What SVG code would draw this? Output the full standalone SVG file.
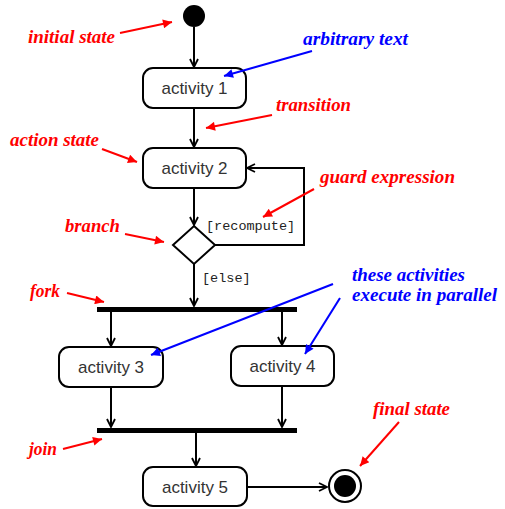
<svg xmlns="http://www.w3.org/2000/svg" width="505" height="509" viewBox="0 0 505 509">
<style>
.box{fill:#fff;stroke:#000;stroke-width:2}
.act{font-family:"Liberation Sans",Arial,sans-serif;font-size:17px;fill:#333;text-anchor:middle}
.guard{font-family:"Liberation Mono","Courier New",monospace;font-size:13.5px;fill:#222}
.edge{fill:none;stroke:#000;stroke-width:2}
.red{font-family:"Liberation Serif","Times New Roman",serif;font-weight:bold;font-style:italic;font-size:18px;fill:#f00}
.blue{font-family:"Liberation Serif","Times New Roman",serif;font-weight:bold;font-style:italic;font-size:18px;fill:#00f}
.rl{stroke:#f00;stroke-width:2;fill:none}
.bl{stroke:#00f;stroke-width:2;fill:none}
</style>
<defs>
<marker id="open" viewBox="0 0 10 10" refX="9" refY="5" markerWidth="10" markerHeight="10" markerUnits="userSpaceOnUse" orient="auto">
<path d="M1,1 L9,5 L1,9" fill="none" stroke="#000" stroke-width="1.8"/>
</marker>
<marker id="ra" viewBox="0 0 10 10" refX="10" refY="5" markerWidth="11" markerHeight="9" markerUnits="userSpaceOnUse" orient="auto">
<path d="M0,0 L10,5 L0,10 Z" fill="#f00"/>
</marker>
<marker id="ba" viewBox="0 0 10 10" refX="10" refY="5" markerWidth="11" markerHeight="9" markerUnits="userSpaceOnUse" orient="auto">
<path d="M0,0 L10,5 L0,10 Z" fill="#00f"/>
</marker>
</defs>

<g id="connectors">
<path class="edge" d="M194,27 V67" marker-end="url(#open)"/>
<path class="edge" d="M194,108 V147" marker-end="url(#open)"/>
<path class="edge" d="M194,188 V225" marker-end="url(#open)"/>
<path class="edge" d="M215,245 H304 V168 H247" marker-end="url(#open)"/>
<path class="edge" d="M194,264 V306" marker-end="url(#open)"/>
<path class="edge" d="M111,312 V346" marker-end="url(#open)"/>
<path class="edge" d="M282,312 V345" marker-end="url(#open)"/>
<path class="edge" d="M111,387 V427" marker-end="url(#open)"/>
<path class="edge" d="M282,386 V427" marker-end="url(#open)"/>
<path class="edge" d="M196,433 V466" marker-end="url(#open)"/>
<path class="edge" d="M247,487 H327" marker-end="url(#open)"/>
<text class="guard" x="206" y="230">[recompute]</text>
<text class="guard" x="202" y="282">[else]</text>
</g>

<g id="initial"><circle cx="194" cy="16" r="11" fill="#000"/></g>
<g id="activity1"><rect class="box" x="143" y="68" width="103" height="40" rx="10"/><text class="act" x="194.5" y="94">activity 1</text></g>
<g id="activity2"><rect class="box" x="143" y="148" width="103" height="40" rx="10"/><text class="act" x="194.5" y="174">activity 2</text></g>
<g id="branch"><polygon class="box" points="194,226 215,245 194,264 173,245"/></g>
<g id="fork"><rect x="97" y="307" width="200" height="5" fill="#000"/></g>
<g id="activity3"><rect class="box" x="59" y="347" width="104" height="40" rx="10"/><text class="act" x="111" y="373">activity 3</text></g>
<g id="activity4"><rect class="box" x="231" y="346" width="103" height="40" rx="10"/><text class="act" x="282.5" y="372">activity 4</text></g>
<g id="join"><rect x="97" y="428" width="200" height="5" fill="#000"/></g>
<g id="activity5"><rect class="box" x="143" y="467" width="104" height="39" rx="10"/><text class="act" x="195" y="493">activity 5</text></g>
<g id="final"><circle cx="345" cy="486" r="16" fill="#fff" stroke="#000" stroke-width="2"/><circle cx="345" cy="486" r="11" fill="#000"/></g>

<g id="annotations">
<text class="red" x="28" y="43" textLength="87" lengthAdjust="spacingAndGlyphs">initial state</text>
<path class="rl" d="M120,33 L172,22" marker-end="url(#ra)"/>
<text class="blue" x="303" y="45" textLength="105" lengthAdjust="spacingAndGlyphs">arbitrary text</text>
<path class="bl" d="M312,51 L224,76" marker-end="url(#ba)"/>
<text class="red" x="276" y="111" textLength="75" lengthAdjust="spacingAndGlyphs">transition</text>
<path class="rl" d="M272,115 L206,128" marker-end="url(#ra)"/>
<text class="red" x="10" y="146" textLength="89" lengthAdjust="spacingAndGlyphs">action state</text>
<path class="rl" d="M102,149 L137,162" marker-end="url(#ra)"/>
<text class="red" x="320" y="183" textLength="135" lengthAdjust="spacingAndGlyphs">guard expression</text>
<path class="rl" d="M314,189 L263,217" marker-end="url(#ra)"/>
<text class="red" x="65" y="232" textLength="55" lengthAdjust="spacingAndGlyphs">branch</text>
<path class="rl" d="M125,234 L164,242" marker-end="url(#ra)"/>
<text class="red" x="30" y="297" textLength="30" lengthAdjust="spacingAndGlyphs">fork</text>
<path class="rl" d="M67,293 L104,302" marker-end="url(#ra)"/>
<text class="blue" x="352" y="281" textLength="113" lengthAdjust="spacingAndGlyphs">these activities</text>
<text class="blue" x="352" y="301" textLength="145" lengthAdjust="spacingAndGlyphs">execute in parallel</text>
<path class="bl" d="M333,284 L151,355" marker-end="url(#ba)"/>
<path class="bl" d="M340,298 L305,354" marker-end="url(#ba)"/>
<text class="red" x="29" y="455" textLength="28" lengthAdjust="spacingAndGlyphs">join</text>
<path class="rl" d="M63,449 L102,439" marker-end="url(#ra)"/>
<text class="red" x="373" y="415" textLength="77" lengthAdjust="spacingAndGlyphs">final state</text>
<path class="rl" d="M399,422 L360,466" marker-end="url(#ra)"/>
</g>
</svg>
